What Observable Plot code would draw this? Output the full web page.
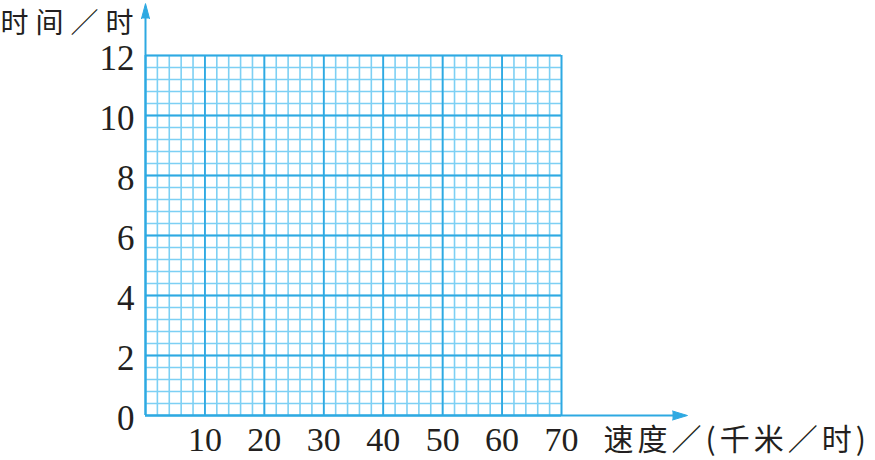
<!DOCTYPE html>
<html>
<head>
<meta charset="utf-8">
<script src="https://cdn.jsdelivr.net/npm/d3@7"></script>
<script src="https://cdn.jsdelivr.net/npm/@observablehq/plot@0.6"></script>
<style>
  html, body { margin: 0; padding: 0; background: #fff; }
  #chart { width: 875px; height: 460px; }
</style>
</head>
<body>
<div id="chart"></div>
<script>
// Axis ticks (blank grid, no data series)
const xTicks = [10, 20, 30, 40, 50, 60, 70];
const yTicks = [0, 2, 4, 6, 8, 10, 12];
const xDomain = [0, 70];
const yDomain = [0, 12];
const xMinorPerMajor = 5;   // minor divisions per 10 km/h
const yMinorPerMajor = 5;   // minor divisions per 2 h
const xAxisEnd = 91.2;      // x axis arrow extends beyond the grid
const yAxisEnd = 13.73;     // y axis arrow extends beyond the grid
const yTitle = "时间／时";
const xTitle = "速度／(千米／时)";

const majorX = [0, ...xTicks];
const majorY = yTicks;
const xStep = 10 / xMinorPerMajor;
const yStep = 2 / yMinorPerMajor;
const minorX = d3.range(0, Math.round(xDomain[1] / xStep) + 1).map(i => +(i * xStep).toFixed(4));
const minorY = d3.range(0, Math.round(yDomain[1] / yStep) + 1).map(i => +(i * yStep).toFixed(4));

const minorColor = "#7dd0f4";
const majorColor = "#2ea9e2";
const axisColor = "#2ea9e2";
const serif = "'Liberation Serif', 'DejaVu Serif', serif";
const cjk = "'Noto Sans CJK SC', sans-serif";

const chart = Plot.plot({
  width: 875,
  height: 460,
  marginLeft: 145,
  marginRight: 314,
  marginTop: 55,
  marginBottom: 45,
  x: { domain: xDomain, axis: null },
  y: { domain: yDomain, axis: null },
  style: { background: "#fff", fontFamily: serif },
  marks: [
    // minor grid
    Plot.ruleX(minorX, { y1: yDomain[0], y2: yDomain[1], stroke: minorColor, strokeWidth: 1.6 }),
    Plot.ruleY(minorY, { x1: xDomain[0], x2: xDomain[1], stroke: minorColor, strokeWidth: 1.6 }),
    // major grid
    Plot.ruleX(majorX, { y1: yDomain[0], y2: yDomain[1], stroke: majorColor, strokeWidth: 1.8 }),
    Plot.ruleY(majorY, { x1: xDomain[0], x2: xDomain[1], stroke: majorColor, strokeWidth: 1.8 }),
    // axes with arrows
    Plot.ruleY([0], { x1: 0, x2: xAxisEnd - 1.5, stroke: axisColor, strokeWidth: 2 }),
    Plot.ruleX([0], { y1: 0, y2: yAxisEnd - 0.3, stroke: axisColor, strokeWidth: 2 }),
    Plot.vector([0], { x: xAxisEnd, y: 0, rotate: 90, length: 15, r: 4.5, shape: "spike", anchor: "end", stroke: axisColor, fill: axisColor, strokeWidth: 1 }),
    Plot.vector([0], { x: 0, y: yAxisEnd, rotate: 0, length: 15, r: 4, shape: "spike", anchor: "end", stroke: axisColor, fill: axisColor, strokeWidth: 1 }),
    // tick labels
    Plot.text(yTicks, { x: 0, y: d => d, text: d => String(d), textAnchor: "end", lineAnchor: "middle", dx: -11, dy: 3, fontSize: 35, fill: "#231f20", fontFamily: serif }),
    Plot.text(xTicks, { x: d => d, y: 0, text: d => String(d), lineAnchor: "middle", dy: 25, fontSize: 34, fill: "#231f20", fontFamily: serif }),
    // axis titles
    Plot.text([yTitle], { frameAnchor: "top-left", text: d => d, textAnchor: "start", lineAnchor: "middle", dx: -145, dy: -31, fontSize: 28, fill: "#231f20", fontFamily: cjk }),
    Plot.text([xTitle], { frameAnchor: "bottom-right", text: d => d, textAnchor: "start", lineAnchor: "middle", dx: 42, dy: 25, fontSize: 30, fill: "#231f20", fontFamily: cjk })
  ]
});
// letter spacing for the CJK titles
d3.select(chart).selectAll("text").each(function () {
  const t = this.textContent;
  if (t === yTitle) this.setAttribute("letter-spacing", "7px");
  if (t === xTitle) this.setAttribute("letter-spacing", "4px");
});
document.getElementById("chart").appendChild(chart);
</script>
</body>
</html>
